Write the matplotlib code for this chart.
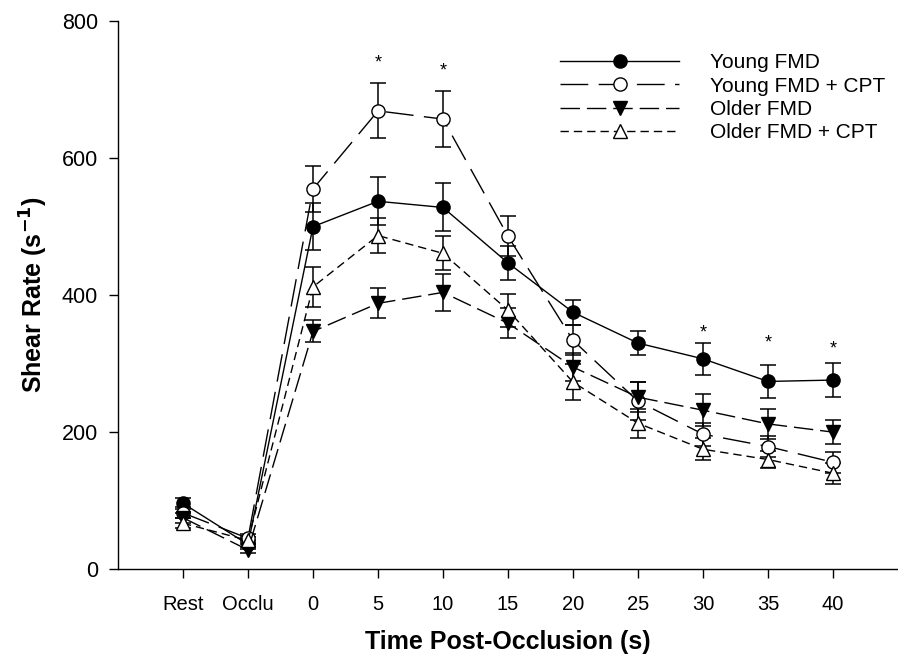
import matplotlib
matplotlib.use("Agg")
import matplotlib.pyplot as plt
import numpy as np

plt.rcParams['font.family'] = ['Liberation Sans', 'DejaVu Sans']

# Time points
categories = ["Rest", "Occlu", "0", "5", "10", "15", "20", "25", "30", "35", "40"]

# Shear rate means and SEM for each group
young_fmd = [96, 36, 500, 537, 528, 447, 375, 330, 307, 274, 276]
young_fmd_err = [8, 6, 34, 35, 35, 25, 18, 18, 23, 24, 25]

young_cpt = [82, 45, 555, 669, 657, 486, 334, 245, 197, 179, 156]
young_cpt_err = [8, 6, 33, 40, 41, 29, 22, 28, 17, 15, 15]

older_fmd = [75, 28, 347, 388, 404, 359, 295, 251, 232, 212, 200]
older_fmd_err = [7, 5, 16, 22, 27, 22, 20, 22, 23, 22, 18]

older_cpt = [67, 42, 412, 487, 461, 378, 273, 213, 175, 160, 140]
older_cpt_err = [7, 5, 29, 25, 25, 24, 26, 21, 16, 13, 15]

# Significance markers: time-point labels and the height of the star
sig_labels = ["5", "10", "30", "35", "40"]
sig_heights = [739, 727, 345, 330, 321]

fig = plt.figure(figsize=(8.98, 6.61), dpi=100)
ax = fig.add_axes([0.1314, 0.139, 0.8686, 0.829])

x = np.arange(len(categories))

series = [
    ("Young FMD", young_fmd, young_fmd_err, 'o', 'black', '-'),
    ("Young FMD + CPT", young_cpt, young_cpt_err, 'o', 'white', (0, (20, 7.5))),
    ("Older FMD", older_fmd, older_fmd_err, 'v', 'black', (0, (14, 5))),
    ("Older FMD + CPT", older_cpt, older_cpt_err, '^', 'white', (0, (6, 3.6))),
]

handles = []
for name, vals, errs, mk, fc, ls in series:
    ax.errorbar(x, vals, yerr=errs, fmt='none', ecolor='black',
                elinewidth=1.1, capsize=5.8, capthick=1.1, zorder=2)
    h, = ax.plot(x, vals, linestyle=ls, color='black', linewidth=1.0,
                 marker=mk, markersize=9.5, markerfacecolor=fc,
                 markeredgecolor='black', markeredgewidth=1.0, zorder=3,
                 label=name)
    handles.append(h)

for lab, yv in zip(sig_labels, sig_heights):
    ax.text(categories.index(lab), yv, "*", ha='center', va='center',
            fontsize=13)

ax.set_xlim(-1, 11)
ax.set_ylim(0, 800)
ax.set_yticks([0, 200, 400, 600, 800])
ax.set_xticks(x)
ax.set_xticklabels(categories)
ax.tick_params(axis='both', direction='out', length=6.5, width=1.0,
               labelsize=14.5, pad=5)
ax.tick_params(axis='y', labelsize=15.5, pad=8)
ax.tick_params(axis='x', pad=12)
for s in ('top', 'right'):
    ax.spines[s].set_visible(False)
for s in ('left', 'bottom'):
    ax.spines[s].set_linewidth(1.0)

ax.set_xlabel("Time Post-Occlusion (s)", fontsize=18, fontweight='bold',
              labelpad=12)
ax.set_ylabel("Shear Rate (s$^{\\mathbf{-1}}$)", fontsize=18,
              fontweight='bold', labelpad=8)

leg = ax.legend(handles=handles, loc='upper left',
                bbox_to_anchor=(0.567, 0.941), frameon=False, fontsize=15,
                handlelength=5.7, handletextpad=1.5, labelspacing=0.2,
                borderaxespad=0, borderpad=0)

fig.savefig("out.png", dpi=100)
